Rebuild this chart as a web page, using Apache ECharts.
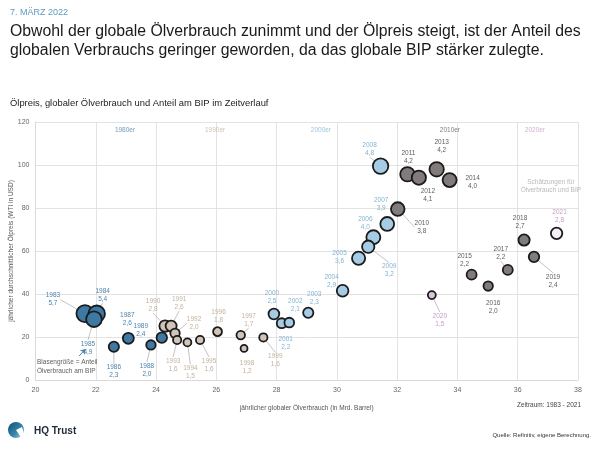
<!DOCTYPE html>
<html><head><meta charset="utf-8">
<script src="https://cdn.jsdelivr.net/npm/echarts/dist/echarts.min.js"></script>
<style>html,body{margin:0;padding:0;background:#fff}#c{width:600px;height:450px}</style>
</head><body><div id="c"></div>
<script>
// ---- data ----
const years = [1983,1984,1985,1986,1987,1988,1989,1990,1991,1992,1993,1994,1995,1996,1997,1998,1999,
  2000,2001,2002,2003,2004,2005,2006,2007,2008,2009,2010,2011,2012,2013,2014,2015,2016,2017,2018,2019,2020,2021];
const consumption = [21.64,22.03,21.94,22.60,23.08,23.83,24.19,24.30,24.50,24.63,24.70,25.04,25.46,26.04,26.81,26.92,27.56,
  27.91,28.17,28.42,29.05,30.19,30.72,31.21,31.67,31.45,31.04,32.02,32.34,32.72,33.31,33.74,34.47,35.02,35.67,36.21,36.54,33.15,37.29];
const oilPrice = [30.9,30.8,28.3,15.5,19.4,16.3,19.7,25.1,25.1,21.7,18.6,17.5,18.6,22.5,20.9,14.7,19.8,
  30.7,26.4,26.7,31.3,41.5,56.6,66.4,72.6,99.5,62.0,79.5,95.7,94.1,98.0,93.0,49.0,43.7,51.2,65.1,57.3,39.5,68.2];
const gdpShare = [5.7,5.4,4.9,2.3,2.6,2.0,2.4,2.8,2.6,2.0,1.6,1.5,1.6,1.8,1.7,1.2,1.6,
  2.5,2.2,2.1,2.3,2.9,3.6,4.0,3.9,4.8,3.2,3.8,4.2,4.1,4.2,4.0,2.2,2.0,2.2,2.7,2.4,1.5,2.8];
const decades = [1980,1990,2000,2010,2020];
const decadeNames = ['1980er','1990er','2000er','2010er','2020er'];
const estimateYears = [2021];

// ---- layout / style (not data) ----
const fills = {1980:'#3e79a4',1990:'#d0c5b8',2000:'#a5cce4',2010:'#817c7b',2020:'#d8c5db'};
const estimateFill = '#f5eef6';
const labelColors = {1980:'#4d84ab',1990:'#c2b39d',2000:'#84b4d2',2010:'#5e5e5e',2020:'#c79cc8'};
const labelDx = [-32,6,-6,0,-1,-4,-21,-12,8,19,-4,3,9,1,8,3,12,
  -2,4,6,6,-11,-19,-8,-6,-11,21,24,1,9,5,23,-7,5,-7,-4,19,8,3];
const labelDy = [-14,-19,29,25,-19,25,-7,-21,-23,-10,25,30,25,-15,-15,19,23,
  -17,20,-17,-15,-10,-1,-14,-20,-17,24,18,-17,18,-23,2,-14,21,-17,-18,24,25,-17];
const leaderYears = [1983,1984,1985,1986,1988,1990,1991,1992,1993,1994,1995,1997,1999,2008,2009,2010,2017,2019,2020];
const annTexts = ['1980er','1990er','2000er','2010er','2020er','Schätzungen für\nÖlverbrauch und BIP','Blasengröße = Anteil\nÖlverbrauch am BIP'];
const annPos = [[22.97,116.3],[25.96,116.3],[29.47,116.3],[33.75,116.3],[36.57,116.3],[37.1,90.2],[20.05,6.3]];
const annColors = ['#4d84ab','#c2b39d','#84b4d2','#5e5e5e','#c79cc8','#a8a8a8','#333333'];
const annAlign = ['center','center','center','center','center','center','left'];

const fmt = v => v.toFixed(1).replace('.', ',');
const sizeOf = v => 7.8 * Math.sqrt(v) - 1.6;

const series = decades.map(d => {
  const idx = years.map((y,i)=>i).filter(i => Math.floor(years[i]/10)*10 === d);
  return {
    type: 'scatter',
    name: decadeNames[decades.indexOf(d)],
    z: 3,
    data: idx.map(i => ({
      value: [consumption[i], oilPrice[i], gdpShare[i], years[i]],
      itemStyle: { color: estimateYears.includes(years[i]) ? estimateFill : fills[d] },
      labelLine: { show: leaderYears.includes(years[i]) }
    })),
    symbolSize: v => sizeOf(v[2]),
    itemStyle: { borderColor: '#1b1b1b', borderWidth: 1.8, opacity: 1 },
    label: {
      show: true, position: 'inside',
      formatter: p => p.value[3] + '\n' + fmt(p.value[2]),
      fontSize: 6.5, lineHeight: 8, color: labelColors[d], fontFamily: 'Liberation Sans'
    },
    labelLine: { show: false, lineStyle: { color: '#9a9a9a', width: 0.6 } },
    labelLayout: p => { const i = idx[p.dataIndex]; return { dx: labelDx[i], dy: labelDy[i] }; },
    emphasis: { disabled: true }
  };
});

series.push({
  type: 'scatter', name: 'ann', symbolSize: 0, z: 2, silent: true,
  data: annTexts.map((t,i) => ({
    value: annPos[i],
    label: { formatter: t, color: annColors[i], align: annAlign[i] }
  })),
  label: { show: true, position: 'inside', fontSize: 6.5, lineHeight: 8.5, fontFamily: 'Liberation Sans' },
  markLine: {
    silent: true, symbol: ['none','arrow'], symbolSize: 5, label: {show:false},
    lineStyle: { color: '#4d84ab', width: 1, type: 'solid' },
    data: [[{coord:[21.45,11.2]},{coord:[21.66,14.4]}]]
  }
});

const chart = echarts.init(document.getElementById('c'), null, {renderer:'canvas'});
chart.setOption({
  animation: false,
  backgroundColor: '#fff',
  textStyle: { fontFamily: 'Liberation Sans' },
  grid: { left: 35.5, right: 22, top: 122, bottom: 70, containLabel: false, outerBoundsMode: 'none' },
  xAxis: {
    type: 'value', min: 20, max: 38, interval: 2,
    axisLine: { show: true, lineStyle: { color: '#d9d9d9' } },
    axisTick: { show: false },
    splitLine: { show: true, lineStyle: { color: '#dcdcdc', width: 0.8 } },
    axisLabel: { fontSize: 7, color: '#666', margin: 7 },
    name: 'jährlicher globaler Ölverbrauch (in Mrd. Barrel)', nameLocation: 'middle', nameGap: 25,
    nameMoveOverlap: false,
    nameTextStyle: { fontSize: 6.5, color: '#555' }
  },
  yAxis: {
    type: 'value', min: 0, max: 120, interval: 20,
    axisLine: { show: true, lineStyle: { color: '#d9d9d9' } },
    axisTick: { show: false },
    splitLine: { show: true, lineStyle: { color: '#dcdcdc', width: 0.8 } },
    axisLabel: { fontSize: 7, color: '#666', margin: 6 },
    name: 'jährlicher durchschnittlicher Ölpreis (WTI in USD)', nameLocation: 'middle', nameGap: 21,
    nameMoveOverlap: false,
    nameTextStyle: { fontSize: 6.5, color: '#555' }
  },
  series: series,
  graphic: [
    { type:'text', x:10, y:13, style:{ text:'7. MÄRZ 2022', fontSize:9, fill:'#5d9cc0', verticalAlign:'middle', fontFamily:'Liberation Sans' } },
    { type:'text', x:10, y:32, style:{ text:'Obwohl der globale Ölverbrauch zunimmt und der Ölpreis steigt, ist der Anteil des', fontSize:15.8, fill:'#1a1a1a', verticalAlign:'middle', fontFamily:'Liberation Sans' } },
    { type:'text', x:10, y:51, style:{ text:'globalen Verbrauchs geringer geworden, da das globale BIP stärker zulegte.', fontSize:15.8, fill:'#1a1a1a', verticalAlign:'middle', fontFamily:'Liberation Sans' } },
    { type:'text', x:10, y:103, style:{ text:'Ölpreis, globaler Ölverbrauch und Anteil am BIP im Zeitverlauf', fontSize:9.4, fill:'#222', verticalAlign:'middle', fontFamily:'Liberation Sans' } },
    { type:'text', x:581, y:405, style:{ text:'Zeitraum: 1983 - 2021', fontSize:6.5, fill:'#444', align:'right', verticalAlign:'middle', fontFamily:'Liberation Sans' } },
    { type:'text', x:591, y:435, style:{ text:'Quelle: Refinitiv, eigene Berechnung.', fontSize:6, fill:'#333', align:'right', verticalAlign:'middle', fontFamily:'Liberation Sans' } },
    { type:'circle', shape:{ cx:16, cy:430, r:8 }, style:{ fill: new echarts.graphic.LinearGradient(0,0,1,1,[{offset:0,color:'#0a4f73'},{offset:0.6,color:'#3b86ad'},{offset:1,color:'#b9d6e6'}]) } },
    { type:'polygon', shape:{ points:[[16,430],[22,427],[26,441],[24,442]] }, style:{ fill:'#fff' } },
    { type:'text', x:34, y:431, style:{ text:'HQ Trust', fontSize:10, fontWeight:'bold', fill:'#1e2a3a', verticalAlign:'middle', fontFamily:'Liberation Sans' } }
  ]
});
</script></body></html>
